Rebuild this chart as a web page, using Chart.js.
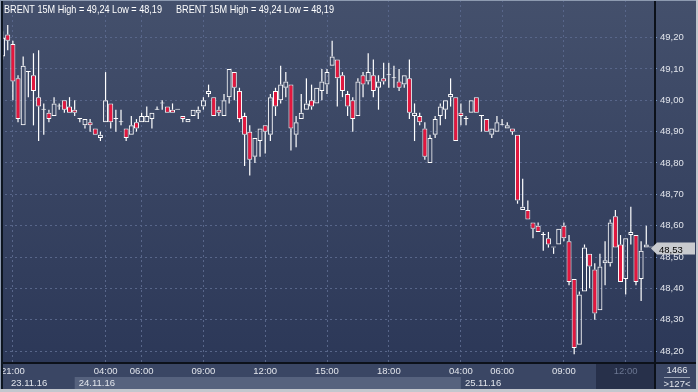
<!DOCTYPE html>
<html>
<head>
<meta charset="utf-8">
<script src="https://cdn.jsdelivr.net/npm/chart.js@4.4.0/dist/chart.umd.min.js"></script>
<style>
html, body { margin: 0; padding: 0; background: #2d3959; }
canvas { display: block; }
</style>
</head>
<body>
<canvas id="chart" width="698" height="392"></canvas>
<script>
// BRENT 15M, 127 bars
const opens = [
  49.14, 49.21, 49.18, 49.07, 48.92, 49.09, 49.08, 49.01, 48.97, 48.96,
  48.95, 48.98, 49.00, 48.98, 48.97, 48.94, 48.92, 48.93, 48.91, 48.88,
  48.93, 48.99, 48.94, 48.93, 48.91, 48.89, 48.93, 48.93, 48.93, 48.94,
  48.97, 48.99, 48.98, 48.97, 48.97, 48.95, 48.93, 48.95, 48.96, 48.98,
  49.02, 49.01, 48.97, 48.95, 49.01, 49.09, 49.03, 48.95, 48.90, 48.82,
  48.87, 48.92, 48.89, 49.03, 49.00, 49.04, 49.05, 48.89, 48.94, 48.97,
  49.00, 48.99, 49.03, 49.05, 49.11, 49.13, 49.08, 49.02, 49.00, 48.95,
  49.08, 49.06, 49.08, 49.04, 49.07, 49.08, 49.07, 49.06, 49.05, 49.07,
  48.95, 48.95, 48.91, 48.80, 48.89, 48.95, 48.97, 49.01, 49.01, 48.96,
  48.94, 48.96, 49.01, 48.95, 48.94, 48.89, 48.90, 48.92, 48.91, 48.91,
  48.89, 48.65, 48.65, 48.61, 48.60, 48.57, 48.56, 48.53, 48.54, 48.60,
  48.55, 48.43, 48.22, 48.39, 48.51, 48.46, 48.33, 48.48, 48.48, 48.63,
  48.54, 48.43, 48.57, 48.57, 48.43, 48.53, 48.53
];
const highs = [
  49.22, 49.24, 49.19, 49.08, 49.14, 49.09, 49.15, 49.16, 48.99, 48.97,
  49.01, 48.99, 49.00, 49.01, 49.00, 48.94, 48.94, 48.94, 48.91, 48.90,
  49.09, 48.99, 48.97, 48.97, 48.91, 48.95, 48.94, 48.96, 48.98, 48.96,
  48.98, 49.00, 48.98, 48.99, 48.97, 48.95, 48.94, 48.97, 48.98, 49.01,
  49.05, 49.01, 48.98, 49.02, 49.10, 49.09, 49.04, 48.96, 48.92, 48.88,
  48.91, 48.92, 49.02, 49.04, 49.11, 49.09, 49.05, 48.95, 49.02, 49.07,
  49.05, 49.04, 49.10, 49.10, 49.19, 49.13, 49.09, 49.03, 49.01, 49.07,
  49.09, 49.15, 49.13, 49.08, 49.12, 49.12, 49.11, 49.10, 49.08, 49.13,
  48.99, 48.96, 48.93, 48.89, 48.95, 48.99, 49.00, 49.07, 49.01, 48.99,
  48.95, 49.00, 49.01, 48.95, 48.94, 48.91, 48.95, 48.94, 48.93, 48.91,
  48.89, 48.75, 48.68, 48.61, 48.61, 48.58, 48.58, 48.53, 48.59, 48.61,
  48.57, 48.43, 48.39, 48.54, 48.51, 48.48, 48.51, 48.55, 48.62, 48.65,
  48.57, 48.56, 48.66, 48.57, 48.55, 48.60, 48.53
];
const lows = [
  49.13, 49.16, 49.00, 48.93, 48.92, 49.01, 48.92, 48.87, 48.89, 48.93,
  48.95, 48.97, 48.96, 48.96, 48.95, 48.93, 48.91, 48.90, 48.89, 48.87,
  48.93, 48.91, 48.90, 48.92, 48.87, 48.89, 48.90, 48.93, 48.93, 48.91,
  48.97, 48.97, 48.96, 48.96, 48.97, 48.93, 48.93, 48.95, 48.94, 48.97,
  49.01, 48.95, 48.95, 48.95, 48.99, 49.00, 48.93, 48.79, 48.76, 48.80,
  48.82, 48.83, 48.87, 48.95, 48.99, 49.01, 48.84, 48.85, 48.94, 48.97,
  48.97, 48.99, 49.00, 49.02, 49.11, 48.98, 49.01, 48.95, 48.90, 48.95,
  49.01, 49.05, 49.01, 48.97, 49.05, 49.04, 49.04, 49.03, 49.04, 48.94,
  48.87, 48.92, 48.81, 48.80, 48.88, 48.92, 48.94, 48.98, 48.87, 48.92,
  48.92, 48.96, 48.96, 48.90, 48.90, 48.88, 48.90, 48.92, 48.91, 48.89,
  48.67, 48.65, 48.62, 48.56, 48.58, 48.52, 48.53, 48.51, 48.54, 48.55,
  48.41, 48.19, 48.22, 48.39, 48.40, 48.30, 48.33, 48.41, 48.47, 48.53,
  48.42, 48.38, 48.54, 48.41, 48.36, 48.53, 48.53
];
const closes = [
  49.20, 49.19, 49.06, 48.94, 49.11, 49.09, 49.03, 48.98, 48.97, 48.94,
  48.99, 48.98, 48.97, 48.96, 48.96, 48.94, 48.94, 48.92, 48.89, 48.89,
  49.00, 48.93, 48.94, 48.93, 48.88, 48.92, 48.91, 48.95, 48.95, 48.96,
  48.97, 48.99, 48.96, 48.96, 48.97, 48.94, 48.94, 48.97, 48.97, 49.00,
  49.03, 48.95, 48.96, 49.00, 49.10, 49.04, 48.94, 48.89, 48.81, 48.88,
  48.91, 48.90, 49.01, 48.98, 49.05, 49.06, 48.91, 48.93, 48.96, 48.99,
  48.98, 49.04, 49.06, 49.09, 49.14, 49.07, 49.03, 48.98, 48.94, 49.06,
  49.05, 49.09, 49.03, 49.06, 49.06, 49.08, 49.07, 49.04, 49.08, 48.96,
  48.96, 48.93, 48.82, 48.88, 48.94, 48.98, 49.00, 49.02, 48.87, 48.95,
  48.94, 49.00, 48.96, 48.95, 48.90, 48.91, 48.93, 48.92, 48.92, 48.90,
  48.68, 48.66, 48.62, 48.59, 48.58, 48.57, 48.54, 48.53, 48.59, 48.56,
  48.42, 48.21, 48.38, 48.53, 48.47, 48.32, 48.47, 48.49, 48.61, 48.53,
  48.42, 48.56, 48.58, 48.42, 48.52, 48.54, 48.53
];

// time axis: bar index of each label
const tickIdx = [2, 20, 27, 39, 51, 63, 75, 89, 97, 109, 121];
const tickText = ['21:00', '04:00', '06:00', '09:00', '12:00', '15:00', '18:00', '04:00', '06:00', '09:00', '12:00'];
const dateIdx = [0, 14, 89];
const dateText = ['23.11.16', '24.11.16', '25.11.16'];
const symbol = 'BRENT 15M';
const totalBars = '1466';

const categories = opens.map((o, i) => String(i));
const bodies = opens.map((o, i) => [o, closes[i]]);
const upper = opens.map((o, i) => [Math.max(o, closes[i]), highs[i]]);
const lower = opens.map((o, i) => [lows[i], Math.min(o, closes[i])]);

const fmt = v => v.toFixed(2).replace('.', ',');
const font = '"Liberation Sans", Arial, sans-serif';
const gridCol = '#58668a';

const decor = {
  id: 'decor',
  beforeDraw(chart) {
    const { ctx, chartArea: a, width, height } = chart;
    const xs = chart.scales.x;
    ctx.save();
    // plot + right axis background
    const g = ctx.createLinearGradient(0, 0, 0, a.bottom);
    g.addColorStop(0, '#44506c');
    g.addColorStop(1, '#2c3858');
    ctx.fillStyle = g;
    ctx.fillRect(0, 0, width, a.bottom);
    // time axis strip
    ctx.fillStyle = '#3a4664';
    ctx.fillRect(0, a.bottom, width, height - a.bottom);
    // date boxes
    for (let i = 0; i < dateIdx.length; i++) {
      if (i % 2 === 1) {
        const x1 = xs.getPixelForValue(dateIdx[i]);
        const x2 = i + 1 < dateIdx.length ? xs.getPixelForValue(dateIdx[i + 1]) : a.right;
        ctx.fillStyle = '#56627e';
        ctx.fillRect(x1, 377, x2 - x1, 12);
      }
    }
    // current session box
    ctx.fillStyle = '#27304a';
    ctx.fillRect(596, a.bottom + 2, a.right - 596, 25);
    ctx.restore();
  },
  afterDraw(chart) {
    const { ctx, chartArea: a, width, height } = chart;
    const xs = chart.scales.x, ys = chart.scales.y;
    ctx.save();
    // axis lines
    ctx.fillStyle = '#0c111a';
    ctx.fillRect(0, a.bottom, width, 2);
    ctx.fillRect(a.right, 0, 2, height);
    // dates
    ctx.font = '9.5px ' + font;
    ctx.fillStyle = '#e2e5ec';
    ctx.textBaseline = 'alphabetic';
    ctx.textAlign = 'left';
    dateText.forEach((t, i) => {
      const x = Math.max(xs.getPixelForValue(dateIdx[i]), 7) + 4;
      ctx.fillText(t, x, 386);
    });
    // bottom right counters
    ctx.textAlign = 'center';
    ctx.fillText(totalBars, 677, 373);
    ctx.fillText('>' + opens.length + '<', 677, 387);
    ctx.fillStyle = '#9aa3b5';
    ctx.fillRect(664, 377, 26, 1);
    // header
    ctx.textAlign = 'left';
    ctx.fillStyle = '#ffffff';
    ctx.font = '11px ' + font;
    const hdr = symbol + ' High = ' + fmt(Math.max(...highs)) + ' Low = ' + fmt(Math.min(...lows));
    ctx.fillText(hdr, 4, 13, 158);
    ctx.fillText(hdr, 176, 13, 158);
    // last price tag
    const last = closes[closes.length - 1];
    const yp = Math.round(ys.getPixelForValue(last)) + 0.5;
    ctx.fillStyle = '#c9cbcf';
    ctx.beginPath();
    ctx.moveTo(a.right - 3, yp);
    ctx.lineTo(a.right + 3, yp - 6);
    ctx.lineTo(a.right + 41, yp - 6);
    ctx.lineTo(a.right + 41, yp + 6);
    ctx.lineTo(a.right + 3, yp + 6);
    ctx.closePath();
    ctx.fill();
    ctx.fillStyle = '#000000';
    ctx.font = '9.5px ' + font;
    ctx.fillText(fmt(last), a.right + 5, yp + 4);
    // frame
    ctx.fillStyle = '#8d9ab0';
    ctx.fillRect(0, 0, width, 1);
    ctx.fillRect(0, 0, 1, height);
    ctx.fillStyle = '#0d1520';
    ctx.fillRect(1, 1, 2, height - 4);
    ctx.fillStyle = '#c3c7ce';
    ctx.fillRect(0, height - 3, width, 3);
    ctx.fillRect(width - 2, 0, 2, height);
    ctx.restore();
  }
};

const wick = (data) => ({
  data: data,
  grouped: false,
  barThickness: 1.2,
  backgroundColor: '#ffffff',
  borderWidth: 0,
  inflateAmount: 0,
  order: 2
});

new Chart(document.getElementById('chart'), {
  type: 'bar',
  data: {
    labels: categories,
    datasets: [
      {
        data: bodies,
        grouped: false,
        barThickness: 5,
        minBarLength: 1,
        borderWidth: 1,
        borderColor: '#ffffff',
        borderSkipped: false,
        inflateAmount: 0,
        order: 1,
        backgroundColor: c => {
          const i = c.dataIndex;
          if (closes[i] < opens[i]) return '#e3173e';
          if (closes[i] > opens[i]) return 'rgba(0,0,0,0)';
          return '#ffffff';
        }
      },
      wick(upper),
      wick(lower)
    ]
  },
  options: {
    responsive: false,
    animation: false,
    devicePixelRatio: 1,
    layout: { padding: 0 },
    plugins: { legend: { display: false }, tooltip: { enabled: false } },
    scales: {
      x: {
        type: 'category',
        offset: true,
        grid: {
          offset: false,
          drawTicks: false,
          color: c => tickIdx.includes(c.index) ? gridCol : 'rgba(0,0,0,0)'
        },
        border: { display: false, dash: [2, 3] },
        ticks: {
          autoSkip: false,
          maxRotation: 0,
          minRotation: 0,
          padding: 4,
          font: { family: font, size: 9.5 },
          color: c => c.index === tickIdx[tickIdx.length - 1] ? '#6b7691' : '#e2e5ec',
          callback: (v, i) => {
            const k = tickIdx.indexOf(i);
            return k < 0 ? '' : tickText[k];
          }
        },
        afterFit: s => { s.height = 30; s.paddingLeft = 0; s.paddingRight = 0; }
      },
      y: {
        position: 'right',
        min: 48.165,
        max: 49.32,
        grid: { color: gridCol, drawTicks: true, tickLength: 3, tickColor: '#7b9ccc' },
        border: { display: false, dash: [2, 3] },
        ticks: {
          stepSize: 0.1,
          includeBounds: false,
          padding: 3,
          font: { family: font, size: 9.5 },
          color: '#e2e5ec',
          callback: v => fmt(v)
        },
        afterBuildTicks: s => { s.ticks = s.ticks.filter(t => t.value < 49.25); },
        afterFit: s => { s.width = 44; s.paddingTop = 0; s.paddingBottom = 0; }
      }
    }
  },
  plugins: [decor]
});
</script>
</body>
</html>
